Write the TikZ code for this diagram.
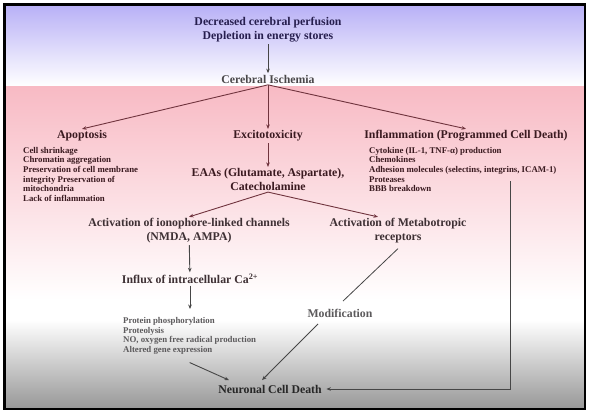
\documentclass[tikz,border=0pt]{standalone}
\usepackage{fontspec}
\setmainfont{Liberation Serif}
\usepackage{tikz}
\usetikzlibrary{positioning,arrows.meta,calc}
\definecolor{lavtop}{RGB}{184,176,246}
\definecolor{pinktop}{RGB}{248,186,196}
\definecolor{graybot}{RGB}{152,152,152}
\definecolor{navytxt}{RGB}{38,30,78}
\definecolor{maroontxt}{RGB}{58,26,32}
\definecolor{maroonline}{RGB}{112,52,62}
\definecolor{darktxt}{RGB}{62,48,52}
\definecolor{graytxt}{RGB}{92,90,92}
\definecolor{grayline}{RGB}{70,70,70}
\tikzset{
  head/.style={font=\fontsize{11.8}{14}\selectfont\bfseries, text=maroontxt,
               align=center, inner sep=1.5pt},
  item/.style={font=\fontsize{8.8}{9.6}\selectfont\bfseries, text=maroontxt,
               align=left, inner sep=0pt},
  flow/.style={-{Stealth[length=4.5pt,width=3.6pt]}, line width=0.9pt, maroonline},
  flowgray/.style={flow, grayline},
  link/.style={line width=0.8pt, grayline}
}

\begin{document}
\begin{tikzpicture}[x=1pt, y=-1pt]
        \useasboundingbox (0,0) rectangle (590,415);
        % background bands
        \shade[top color=lavtop, bottom color=white] (5,5) rectangle (584,86);
        \shade[top color=pinktop, bottom color=white] (5,86) rectangle (584,300);
        \fill[white] (5,300) rectangle (584,320);
        \shade[top color=white, bottom color=graybot] (5,320) rectangle (584,408);
        \draw[line width=2.4pt, black] (4.5,4.5) rectangle (585,409);

        \node[head, text=navytxt] (cause) at (268,30) {Decreased cerebral perfusion\\Depletion in energy stores};
        \node[head, text=graytxt!80!black] (isch) at (268,79) {Cerebral Ischemia};

        \node[head] (apop) at (82,136) {Apoptosis};
        \node[head] (excito) at (268,136) {Excitotoxicity};
        \node[head] (inflam) at (466,136) {Inflammation (Programmed Cell Death)};

        \node[item, anchor=north west] (apoplist) at (23,147)
          {Cell shrinkage\\Chromatin aggregation\\Preservation of cell membrane\\
           integrity Preservation of\\mitochondria\\Lack of inflammation};
        \node[item, anchor=north west] (inflamlist) at (369,147)
          {Cytokine (IL-1, TNF-α) production\\Chemokines\\
           Adhesion molecules (selectins, integrins, ICAM-1)\\Proteases\\BBB breakdown};

        \node[head, font=\fontsize{11.8}{13.5}\selectfont\bfseries] (eaas) at (268,179.5)
          {EAAs (Glutamate, Aspartate),\\Catecholamine};
        \node[head, text=darktxt] (iono) at (189,231) {Activation of ionophore-linked channels\\(NMDA, AMPA)};
        \node[head, text=darktxt] (metab) at (398,231) {Activation of Metabotropic\\receptors};
        \node[head, text=darktxt] (influx) at (190,279) {Influx of intracellular Ca\textsuperscript{2+}};

        \node[item, text=graytxt, font=\fontsize{8.8}{9.7}\selectfont\bfseries, anchor=north west] (calist) at (123,317)
          {Protein phosphorylation\\Proteolysis\\NO, oxygen free radical production\\Altered gene expression};
        \node[head, text=graytxt] (mod) at (340,313) {Modification};
        \node[head, text=black!85] (death) at (270,389) {Neuronal Cell Death};
        \coordinate (bbb) at (510,181);

        \draw[flowgray] (cause) -- (isch);
        \draw[flow] (isch.south) -- (apop.north);
        \draw[flow] (isch.south) -- (excito.north);
        \draw[flow] (isch.south) -- (inflam.north);
        \draw[flow] (excito) -- (eaas);
        \draw[flow] (eaas.south) -- (iono.north);
        \draw[flow] (eaas.south) -- ([xshift=-20pt]metab.north);
        \draw[flowgray] (iono) -- (influx);
        \draw[flowgray, shorten >=8pt] (influx.south) -- (calist.north -| influx.south);
        \draw[flowgray] ([yshift=-8pt]calist.south) -- ([xshift=-41pt,yshift=3pt]death.north);
        \draw[link] ([yshift=-3.5pt]metab.south) -- ([xshift=3pt,yshift=6pt]mod.north);
        \draw[flowgray] ([xshift=-22pt,yshift=-5pt]mod.south) -- ([xshift=-8pt,yshift=3pt]death.north);
        \draw[flowgray, line width=0.8pt, shorten >=3pt] (bbb) |- (death.east);
      \end{tikzpicture}
\end{document}
